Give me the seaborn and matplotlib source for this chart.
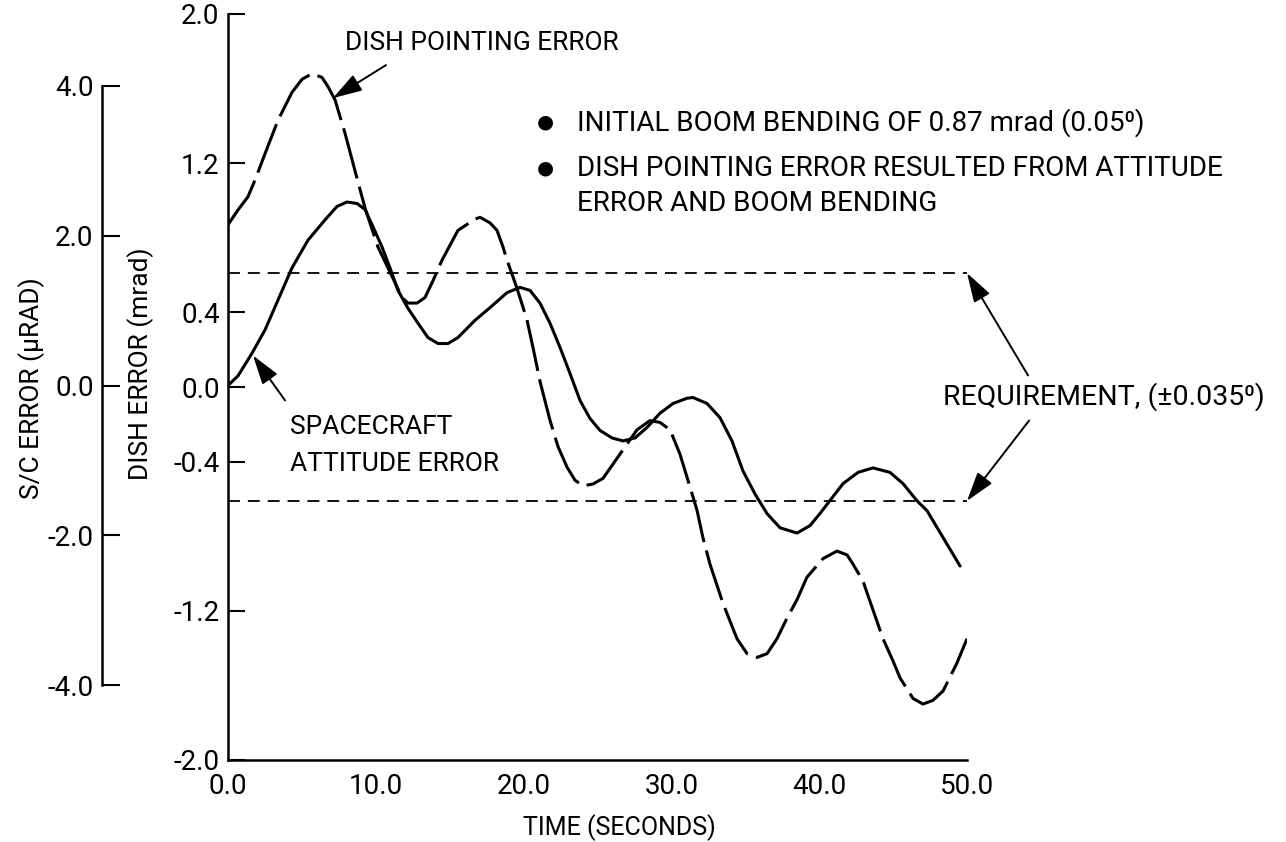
import numpy as np
import pandas as pd
import matplotlib
matplotlib.use("Agg")
import matplotlib.pyplot as plt
import seaborn as sns

# Spacecraft attitude error (micro-radians) against time (s)
time_sc = [0.0, 0.68, 1.62, 2.50, 3.38, 4.33, 5.41, 6.56, 7.37, 8.05, 8.73, 9.27,
           9.81, 10.42, 10.96, 11.50, 12.18, 12.86, 13.53, 14.21, 14.88, 15.56,
           16.71, 17.73, 18.88, 19.76, 20.43, 21.11, 21.79, 22.46, 23.14, 23.82,
           24.49, 25.17, 25.98, 26.73, 27.54, 28.35, 29.23, 30.11, 31.06, 31.46,
           32.41, 33.29, 34.10, 34.84, 35.66, 36.47, 37.35, 38.50, 39.38, 40.05,
           40.87, 41.61, 42.63, 43.64, 44.79, 45.67, 46.62, 47.29, 48.38, 49.53]
sc_error = [0.0, 0.13, 0.43, 0.74, 1.14, 1.57, 1.94, 2.21, 2.39, 2.45, 2.43, 2.35,
            2.12, 1.85, 1.57, 1.27, 1.03, 0.83, 0.64, 0.56, 0.56, 0.64,
            0.87, 1.04, 1.24, 1.31, 1.27, 1.10, 0.83, 0.51, 0.16, -0.20,
            -0.44, -0.60, -0.70, -0.74, -0.70, -0.56, -0.37, -0.24, -0.17, -0.16,
            -0.24, -0.43, -0.74, -1.14, -1.45, -1.71, -1.90, -1.97, -1.87, -1.71,
            -1.50, -1.31, -1.16, -1.10, -1.16, -1.31, -1.54, -1.67, -2.03, -2.41]

# Dish pointing error (mrad) against time (s)
time_dish = [0.0, 0.68, 1.35, 1.83, 2.50, 3.38, 4.33, 5.01, 5.68, 6.36, 6.77, 7.24,
             7.92, 8.59, 9.27, 10.15, 11.30, 11.77, 12.18, 12.79, 13.33, 13.87,
             14.48, 15.56, 16.71, 17.05, 17.73, 18.20, 18.61, 18.88, 19.55, 20.23,
             20.64, 21.11, 21.79, 22.33, 22.94, 23.48, 24.02, 24.70, 25.37, 26.52,
             27.67, 28.55, 29.23, 29.91, 30.58, 31.12, 31.73, 32.14, 32.61, 33.49,
             34.44, 35.12, 35.79, 36.47, 37.14, 37.82, 38.50, 39.17, 40.26, 41.20,
             41.88, 42.29, 42.96, 43.44, 44.32, 45.00, 45.47, 46.35, 47.02, 47.70,
             48.38, 49.32, 50.0]
dish_error = [0.87, 0.95, 1.02, 1.11, 1.25, 1.43, 1.58, 1.65, 1.68, 1.66, 1.61, 1.54,
              1.36, 1.16, 0.96, 0.75, 0.56, 0.48, 0.45, 0.45, 0.48, 0.57,
              0.68, 0.84, 0.90, 0.91, 0.88, 0.84, 0.75, 0.68, 0.53, 0.36,
              0.21, 0.03, -0.18, -0.32, -0.43, -0.50, -0.53, -0.52, -0.49, -0.36,
              -0.23, -0.18, -0.19, -0.23, -0.36, -0.50, -0.66, -0.81, -0.95, -1.16,
              -1.35, -1.43, -1.45, -1.43, -1.35, -1.24, -1.14, -1.02, -0.92, -0.88,
              -0.90, -0.95, -1.04, -1.15, -1.35, -1.47, -1.56, -1.67, -1.70, -1.68,
              -1.63, -1.48, -1.35]

# Pointing requirement, +/- 0.035 deg expressed in mrad
req_deg = 0.035
req_mrad = np.deg2rad(req_deg) * 1000.0

dish_ticks = [2.0, 1.2, 0.4, 0.0, -0.4, -1.2, -2.0]
sc_ticks = [4.0, 2.0, 0.0, -2.0, -4.0]
time_ticks = [0.0, 10.0, 20.0, 30.0, 40.0, 50.0]

sns.set_theme(style="white")
FONT = ["Roboto", "Liberation Sans", "DejaVu Sans"]
plt.rcParams["font.family"] = FONT
plt.rcParams["axes.unicode_minus"] = False
plt.rcParams["text.color"] = "black"

W, H = 1286, 842
fig = plt.figure(figsize=(W / 100, H / 100), dpi=100)
fig.patch.set_facecolor("white")
left, right, top, bottom = 228, 967, 14, 760
ax = fig.add_axes([left / W, 1 - bottom / H, (right - left) / W, (bottom - top) / H])
ax.set_facecolor("white")
ax.set_xlim(0, 50)
ax.set_ylim(-2.0, 2.0)

# secondary scale for the spacecraft error
ax2 = ax.twinx()
ax2.set_ylim(-5.0, 4.96)

df_dish = pd.DataFrame({"time": time_dish, "error": dish_error})
df_sc = pd.DataFrame({"time": time_sc, "error": sc_error})

sns.lineplot(data=df_dish, x="time", y="error", ax=ax, color="black",
             lw=2.2, estimator=None, sort=False)
dish_line = ax.lines[-1]
dish_line.set_dashes((17, 2.8))
dish_line.set_dash_capstyle("butt")
dish_line.set_dash_joinstyle("round")

sns.lineplot(data=df_sc, x="time", y="error", ax=ax2, color="black",
             lw=2.2, estimator=None, sort=False)
ax2.lines[-1].set_solid_capstyle("round")
ax2.lines[-1].set_solid_joinstyle("round")

# requirement band edges
for lvl in (req_mrad, -req_mrad):
    ln = ax.axhline(lvl, xmin=0, xmax=1, color="black", lw=1.3)
    ln.set_dashes((6.6, 4.4))

# main axis styling
for side in ("top", "right"):
    ax.spines[side].set_visible(False)
for side in ("left", "bottom"):
    ax.spines[side].set_color("black")
    ax.spines[side].set_linewidth(1.8)
ax.set_xticks(time_ticks, labels=[f"{t:.1f}" for t in time_ticks])
ax.set_yticks(dish_ticks, labels=[f"{t:.1f}" for t in dish_ticks])
ax.tick_params(axis="both", direction="in", length=12, width=1.5,
               colors="black", labelsize=20)
ax.tick_params(axis="y", pad=6)
ax.tick_params(axis="x", pad=9)
ax.set_xlabel("TIME (SECONDS)", fontsize=18, color="black")
ax.xaxis.set_label_coords(0.53, -0.072)
ax.set_ylabel("DISH ERROR (mrad)", fontsize=19, color="black")
ax.yaxis.set_label_coords(-0.100, 0.531)

# spacecraft axis styling
for side in ("top", "right", "bottom"):
    ax2.spines[side].set_visible(False)
ax2.spines["left"].set_visible(True)
ax2.spines["left"].set_position(("axes", (102 - left) / (right - left)))
ax2.spines["left"].set_bounds(-4.0, 4.0)
ax2.spines["left"].set_color("black")
ax2.spines["left"].set_linewidth(1.8)
ax2.yaxis.tick_left()
ax2.yaxis.set_label_position("left")
ax2.set_yticks(sc_ticks, labels=[f"{t:.1f}" for t in sc_ticks])
ax2.tick_params(axis="y", direction="in", length=13, width=1.5,
                colors="black", labelsize=20, pad=6)
ax2.set_ylabel("S/C ERROR (\u00b5RAD)", fontsize=19, color="black")
ax2.yaxis.set_label_coords(-0.247, 0.499)

# annotations
txt = dict(fontsize=19, color="black", va="center", ha="left", clip_on=False)
note = dict(txt, fontsize=20)
arrow = dict(arrowstyle="-|>,head_length=0.9,head_width=0.28", color="black",
             lw=1.4, mutation_scale=20, shrinkA=0, shrinkB=0)

ax.text(7.92, 1.844, "DISH POINTING ERROR", **txt)
ax.annotate("", xy=(7.10, 1.549), xytext=(10.69, 1.726),
            arrowprops=arrow, annotation_clip=False)

ax.text(4.2, -0.217, "SPACECRAFT", **txt)
ax.text(4.2, -0.411, "ATTITUDE ERROR", **txt)
ax.annotate("", xy=(1.69, 0.169), xytext=(3.86, -0.072),
            arrowprops=arrow, annotation_clip=False)

ax.text(21.45, 1.42, "\u25cf", fontsize=14, color="black", va="center",
        ha="center", family=["DejaVu Sans"])
ax.text(21.45, 1.173, "\u25cf", fontsize=14, color="black", va="center",
        ha="center", family=["DejaVu Sans"])
ax.text(23.6, 1.42, "INITIAL BOOM BENDING OF 0.87 mrad (0.05\u2070)", **note)
ax.text(23.6, 1.173, "DISH POINTING ERROR RESULTED FROM ATTITUDE", **note)
ax.text(23.6, 0.985, "ERROR AND BOOM BENDING", **note)

ax.text(48.38, -0.051, "REQUIREMENT, (\u00b10.035\u2070)", **dict(txt, fontsize=20.5))
ax.annotate("", xy=(50.0, req_mrad), xytext=(54.13, 0.062),
            arrowprops=arrow, annotation_clip=False)
ax.annotate("", xy=(50.0, -req_mrad), xytext=(54.2, -0.18),
            arrowprops=arrow, annotation_clip=False)

fig.savefig("out.png", dpi=100, facecolor="white")
